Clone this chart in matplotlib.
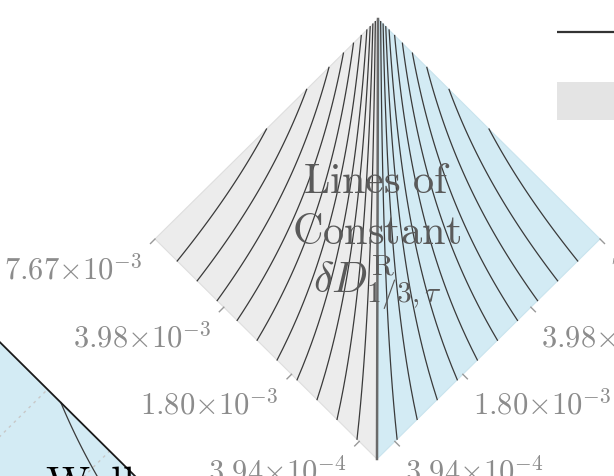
import numpy as np
import matplotlib
matplotlib.use("Agg")
import matplotlib.pyplot as plt
from matplotlib.transforms import Affine2D
from matplotlib.patches import Polygon, Rectangle

plt.rcParams['mathtext.fontset'] = 'cm'

# ---------------- data ----------------
# tick positions (fraction along each lower edge, from the bottom vertex) and labels
tick_positions = [0.08, 0.385, 0.69, 1.00]
tick_labels = [r"3.94{\times}10^{-4}", r"1.80{\times}10^{-3}",
               r"3.98{\times}10^{-3}", r"7.67{\times}10^{-3}"]
# lines of constant value: start on the lower edge, end on the upper edge
left_line_start = [0.09, 0.18, 0.27, 0.36, 0.45, 0.54, 0.63, 0.72, 0.81, 0.90]
left_line_end = [0.988, 0.977, 0.965, 0.950, 0.925, 0.890, 0.845, 0.780, 0.680, 0.500]
right_line_start = [0.09, 0.18, 0.27, 0.36, 0.45, 0.54, 0.63, 0.72, 0.81, 0.90]
right_line_end = [0.988, 0.977, 0.965, 0.950, 0.925, 0.890, 0.845, 0.780, 0.680, 0.500]
# partially visible "Wall" diagram
wall_line_start = [0.885]
wall_line_end = [0.37]
wall_grid = [0.15, 0.43]
title_lines = [r"$\mathrm{Lines\ of}$", r"$\mathrm{Constant}$",
               r"$\delta D^{\mathrm{R}}_{1/3,\tau}$"]
wall_label = r"$\mathrm{Wall}$"

# ---------------- figure ----------------
W, H = 614, 477
fig = plt.figure(figsize=(W / 100, H / 100), dpi=100)
ax = fig.add_axes([0, 0, 1, 1])
ax.set_xlim(0, W)
ax.set_ylim(H, 0)
ax.axis('off')

GREY = '#ececec'
BLUE = '#d3ebf4'
LINE = '#3a3a3a'
K = 2.5


def diamond(x0, y0):
    # (a, b) -> canvas: a along the lower-left edge, b along the lower-right edge
    return Affine2D.from_values(-222, -220, 223, -220, x0, y0)


def warped(p_from, p_to, n=90):
    u0 = np.exp(K * np.asarray(p_from, float))
    u1 = np.exp(K * np.asarray(p_to, float))
    t = np.linspace(0, 1, n)[:, None]
    return np.log(u0 + t * (u1 - u0)) / K


main = diamond(377, 460)
tr = main + ax.transData

ax.add_patch(Polygon([(0, 0), (1, 0), (1, 1)], closed=True, facecolor=GREY,
                     edgecolor='#dedede', lw=0.8, transform=tr))
ax.add_patch(Polygon([(0, 0), (0, 1), (1, 1)], closed=True, facecolor=BLUE,
                     edgecolor='#c9e4ee', lw=0.8, transform=tr))

for s, e in zip(left_line_start, left_line_end):
    pts = warped((s, 0.0), (1.0, e))
    ax.plot(pts[:, 0], pts[:, 1], color=LINE, lw=0.9, transform=tr)
for s, e in zip(right_line_start, right_line_end):
    pts = warped((0.0, s), (e, 1.0))
    ax.plot(pts[:, 0], pts[:, 1], color=LINE, lw=0.9, transform=tr)

ax.plot([0, 1], [0, 1], color='#6a6a6a', lw=1.8, transform=tr)

# ticks and tick labels
for p, lab in zip(tick_positions, tick_labels):
    bx, by = main.transform((p, 0))
    ax.plot([bx, bx - 4.5], [by, by + 4.5], color='#999999', lw=1.0)
    ax.text(bx - 13, by + 39, '$' + lab + '$', ha='right', va='baseline',
            fontsize=22, color='#8c8c8c')
    bx, by = main.transform((0, p))
    ax.plot([bx, bx + 4.5], [by, by + 4.5], color='#999999', lw=1.0)
    ax.text(bx + 10, by + 39, '$' + lab + '$', ha='left', va='baseline',
            fontsize=22, color='#8c8c8c')

# title
for txt, yb in zip(title_lines, [193, 244, 292]):
    ax.text(377, yb, txt, ha='center', va='baseline', fontsize=30.5,
            color='#5a5a5a')

# legend handles (top right, cut off)
ax.plot([557, 640], [33, 33], color='#333333', lw=1.6, solid_capstyle='butt')
ax.add_patch(Rectangle((557, 83), 80, 38, facecolor='#e4e4e4', edgecolor='none'))

# partially visible "Wall" diagram
wall = diamond(-80, 705)
trw = wall + ax.transData
ax.add_patch(Polygon([(0, 0), (0, 1), (1, 1)], closed=True, facecolor=BLUE,
                     edgecolor='none', transform=trw))
for g in wall_grid:
    ax.plot([g, g], [0, 1], color='#c8c8c8', lw=1.0, linestyle=(0, (2, 3)),
            transform=trw)
for s, e in zip(wall_line_start, wall_line_end):
    pts = warped((0.0, s), (e, 1.0))
    ax.plot(pts[:, 0], pts[:, 1], color=LINE, lw=0.9, transform=trw)
ax.plot([0, 1], [1, 1], color='#1a1a1a', lw=1.3, transform=trw)
ax.text(45, 496, wall_label, ha='left', va='baseline', fontsize=31, color='black')

fig.savefig('out.png', dpi=100)
